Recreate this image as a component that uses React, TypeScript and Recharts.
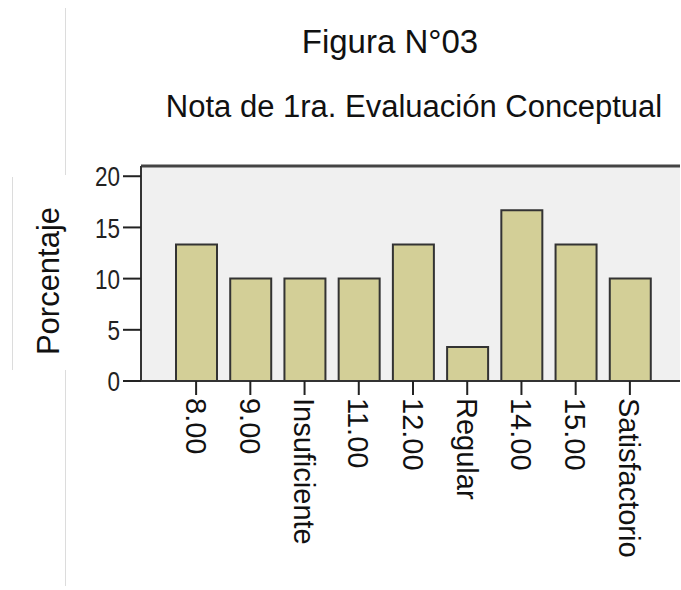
import React from 'react';
import { BarChart, Bar, XAxis, YAxis, CartesianGrid, ReferenceLine } from 'recharts';

const categories = ['8.00', '9.00', 'Insuficiente', '11.00', '12.00', 'Regular', '14.00', '15.00', 'Satisfactorio'];
const percentages = [13.33, 10.0, 10.0, 10.0, 13.33, 3.33, 16.67, 13.33, 10.0];
const yTicks = [0, 5, 10, 15, 20];
const yMax = 21;

const data = categories.map((c, i) => ({ name: c, value: percentages[i] }));

const FONT = "'Liberation Sans', Arial, Helvetica, sans-serif";

const XTick = (props: any) => {
  const { x, y, payload } = props;
  return (
    <text
      x={x}
      y={y}
      dy="0.36em"
      transform={`rotate(90, ${x}, ${y})`}
      textAnchor="start"
      fontSize={29}
      fontFamily={FONT}
      fill="#111"
    >
      {payload.value}
    </text>
  );
};

const YTick = (props: any) => {
  const { x, y, payload } = props;
  const label = String(payload.value);
  return (
    <text
      x={x}
      y={y}
      dy="0.36em"
      textAnchor="end"
      fontSize={28}
      fontFamily={FONT}
      fill="#222"
      textLength={label.length * 12.5}
      lengthAdjust="spacingAndGlyphs"
    >
      {label}
    </text>
  );
};

export default function App() {
  return (
    <div style={{ position: 'absolute', left: 0, top: 0, width: 681, height: 590, background: '#fff' }}>
      <BarChart
        width={681}
        height={590}
        data={data}
        margin={{ top: 166, right: 1, bottom: 0, left: 0 }}
        barCategoryGap={0}
      >
        <CartesianGrid horizontal={false} vertical={false} fill="#f0f0f0" />
        <XAxis
          dataKey="name"
          interval={0}
          height={209}
          padding={{ left: 28, right: 23 }}
          axisLine={{ stroke: '#333', strokeWidth: 2 }}
          tickLine={{ stroke: '#222', strokeWidth: 2 }}
          tickSize={14}
          tickMargin={3}
          tick={<XTick />}
        />
        <YAxis
          width={141}
          domain={[0, yMax]}
          ticks={yTicks}
          interval={0}
          axisLine={{ stroke: '#333', strokeWidth: 2 }}
          tickLine={{ stroke: '#222', strokeWidth: 2 }}
          tickSize={18}
          tickMargin={3}
          tick={<YTick />}
        />
        <YAxis
          yAxisId="right"
          orientation="right"
          width={0}
          domain={[0, yMax]}
          tick={false}
          tickLine={false}
          axisLine={{ stroke: '#c8c8c8', strokeWidth: 1 }}
        />
        <ReferenceLine y={yMax} stroke="#444" strokeWidth={3} ifOverflow="visible" />
        <Bar
          dataKey="value"
          fill="#d3cf97"
          stroke="#333"
          strokeWidth={2}
          barSize={41}
          isAnimationActive={false}
        />
      </BarChart>
      <svg
        width={681}
        height={590}
        style={{ position: 'absolute', left: 0, top: 0, pointerEvents: 'none' }}
      >
        <line x1={65.5} y1={8} x2={65.5} y2={175} stroke="#dcdcdc" strokeWidth={1} />
        <line x1={12.5} y1={177} x2={12.5} y2={370} stroke="#dcdcdc" strokeWidth={1} />
        <line x1={65.5} y1={370} x2={65.5} y2={586} stroke="#dcdcdc" strokeWidth={1} />
        <text x={390} y={53} textAnchor="middle" fontSize={33} fontFamily={FONT} fill="#111">
          Figura N°03
        </text>
        <text x={414} y={117} textAnchor="middle" fontSize={31} fontFamily={FONT} fill="#111">
          Nota de 1ra. Evaluación Conceptual
        </text>
        <text
          x={48}
          y={281}
          dy="0.36em"
          transform="rotate(-90, 48, 281)"
          textAnchor="middle"
          fontSize={31}
          fontFamily={FONT}
          fill="#111"
        >
          Porcentaje
        </text>
      </svg>
    </div>
  );
}
